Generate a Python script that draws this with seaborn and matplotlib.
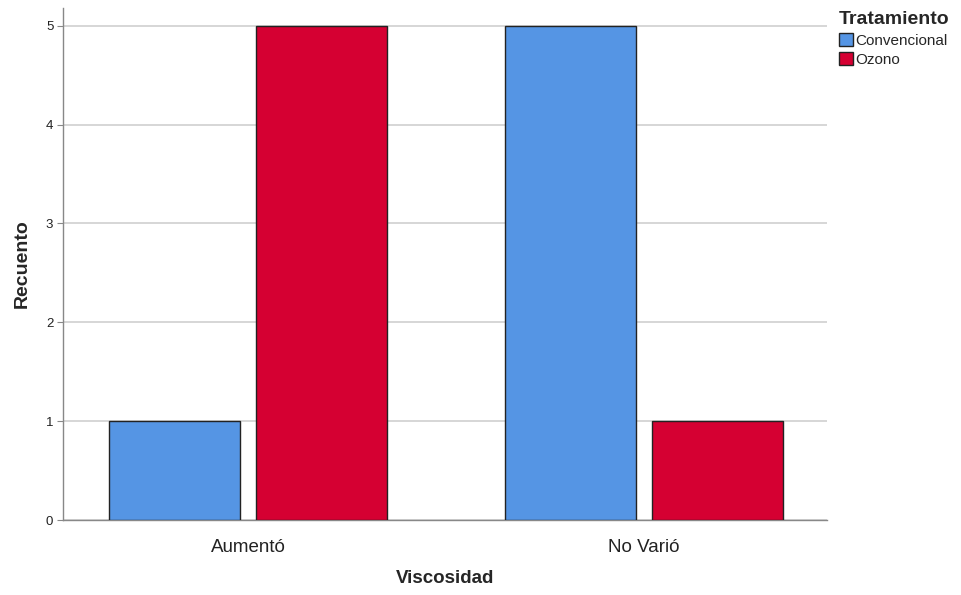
import pandas as pd
import matplotlib
matplotlib.use('Agg')
import matplotlib.pyplot as plt
import seaborn as sns
from matplotlib.patches import Patch

# data
viscosidad = ['Aumentó', 'Aumentó', 'No Varió', 'No Varió']
tratamiento = ['Convencional', 'Ozono', 'Convencional', 'Ozono']
recuento = [1, 5, 5, 1]

df = pd.DataFrame({'Viscosidad': viscosidad, 'Tratamiento': tratamiento, 'Recuento': recuento})
colors = {'Convencional': '#5595E4', 'Ozono': '#D50032'}

sns.set_style('white')
plt.rcParams['font.family'] = ['Arial', 'Liberation Sans', 'DejaVu Sans']

fig = plt.figure(figsize=(9.62, 5.95), dpi=100)
ax = fig.add_axes([0.0655, 0.126, 0.794, 0.8606])

sns.barplot(data=df, x='Viscosidad', y='Recuento', hue='Tratamiento',
            palette=colors, saturation=1, width=0.744, gap=0.11,
            edgecolor='#222222', linewidth=1, ax=ax, legend=False, zorder=3)

ax.set_xlim(-0.467, 1.462)
ax.set_ylim(0, 5.18)
ax.set_yticks(range(6))
ax.yaxis.grid(True, color='#d0d0d0', linewidth=1.2, zorder=0)
ax.set_axisbelow(True)
for s in ['top', 'right']:
    ax.spines[s].set_visible(False)
for s in ['left', 'bottom']:
    ax.spines[s].set_color('#888888')
    ax.spines[s].set_linewidth(1)
ax.tick_params(axis='y', left=True, length=4, color='#888888', labelsize=9.5, labelcolor='#222222', pad=3)
ax.tick_params(axis='x', bottom=False, labelsize=13.5, labelcolor='#222222', pad=10)

ax.set_xlabel('Viscosidad', fontsize=13.5, fontweight='bold', labelpad=10)
ax.set_ylabel('Recuento', fontsize=14, fontweight='bold', labelpad=11)

handles = [Patch(facecolor=colors[t], edgecolor='#222222', label=t) for t in ['Convencional', 'Ozono']]
leg = fig.legend(handles=handles, title='Tratamiento', loc='upper left',
                 bbox_to_anchor=(0.86, 1.0), frameon=False, fontsize=11,
                 title_fontproperties={'weight': 'bold', 'size': 14},
                 handlelength=0.9, handleheight=0.9, handletextpad=0.2,
                 labelspacing=0.3, borderpad=0.25, alignment='left')

fig.savefig('out.png', dpi=100)
